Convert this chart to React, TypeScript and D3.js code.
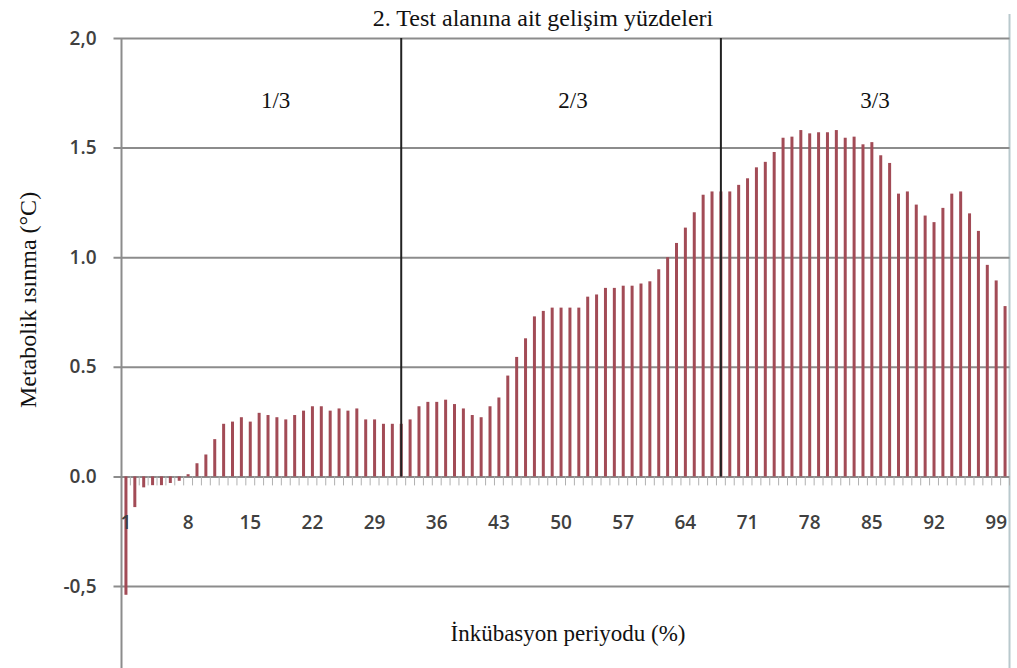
import * as React from "react";
import * as d3 from "d3";

// incubation period (%) categories 1..100
const periods: number[] = Array.from({ length: 100 }, (_, i) => i + 1);

// metabolic warming (°C)
const warming: number[] = [
  -0.54, -0.14, -0.05, -0.04, -0.04, -0.03, -0.02, 0.01, 0.06, 0.1,
  0.17, 0.24, 0.25, 0.27, 0.25, 0.29, 0.28, 0.27, 0.26, 0.28,
  0.3, 0.32, 0.32, 0.3, 0.31, 0.3, 0.31, 0.26, 0.26, 0.24,
  0.24, 0.24, 0.26, 0.32, 0.34, 0.34, 0.35, 0.33, 0.31, 0.28,
  0.27, 0.32, 0.36, 0.46, 0.545, 0.63, 0.73, 0.755, 0.77, 0.77,
  0.77, 0.77, 0.82, 0.83, 0.86, 0.86, 0.87, 0.87, 0.88, 0.89,
  0.945, 1.0, 1.065, 1.135, 1.205, 1.285, 1.3, 1.3, 1.3, 1.33,
  1.36, 1.41, 1.435, 1.48, 1.545, 1.55, 1.58, 1.565, 1.57, 1.57,
  1.58, 1.545, 1.55, 1.515, 1.525, 1.465, 1.43, 1.29, 1.3, 1.24,
  1.19, 1.16, 1.225, 1.29, 1.3, 1.2, 1.12, 0.965, 0.894, 0.777,
];

const xTickValues: number[] = [1, 8, 15, 22, 29, 36, 43, 50, 57, 64, 71, 78, 85, 92, 99];
const yTickValues: number[] = [-0.5, 0, 0.5, 1, 1.5, 2];
const yTickLabels: string[] = ["-0,5", "0.0", "0.5", "1.0", "1.5", "2,0"];

// section dividers and their labels
const dividers: number[] = [32, 68];
const sections: { label: string; from: number; to: number }[] = [
  { label: "1/3", from: 1, to: 32 },
  { label: "2/3", from: 32, to: 68 },
  { label: "3/3", from: 68, to: 100 },
];

const title = "2. Test alanına ait gelişim yüzdeleri";
const xTitle = "İnkübasyon periyodu (%)";
const yTitle = "Metabolik ısınma (°C)";

function drawChart(svgEl: SVGSVGElement) {
  const width = 1017;
  const height = 668;
  const left = 121.5;
  const right = 1009.5;
  const top = 38;

  const svg = d3.select(svgEl);
  svg.selectAll("*").remove();
  svg.attr("width", width).attr("height", height);

  const x = d3
    .scaleBand<number>()
    .domain(periods)
    .range([left, right])
    .padding(0);
  const y = d3.scaleLinear().domain([-0.5, 2]).range([586, top]);
  const cx = (d: number) => (x(d) as number) + x.bandwidth() / 2;

  svg.append("rect").attr("width", width).attr("height", height).attr("fill", "#fff");

  // right border
  svg
    .append("line")
    .attr("x1", right)
    .attr("x2", right)
    .attr("y1", 14)
    .attr("y2", height)
    .attr("stroke", "#b9c9cd")
    .attr("stroke-width", 2);

  // gridlines + y ticks
  const yAxis = d3
    .axisLeft(y)
    .tickValues(yTickValues)
    .tickSize(-(right - left))
    .tickSizeOuter(0)
    .tickPadding(25)
    .tickFormat((_d, i) => yTickLabels[i]);

  const gy = svg.append("g").attr("transform", `translate(${left},0)`).call(yAxis);
  gy.select(".domain").remove();
  gy.selectAll(".tick line")
    .attr("x1", -8)
    .attr("stroke", "#8c8c8c")
    .attr("stroke-width", 2);
  gy.selectAll(".tick text")
    .attr("font-family", "'Open Sans', sans-serif")
    .attr("font-size", 19)
    .attr("font-weight", 600)
    .attr("fill", "#404040");

  // y axis line
  svg
    .append("line")
    .attr("x1", left)
    .attr("x2", left)
    .attr("y1", top)
    .attr("y2", height)
    .attr("stroke", "#8c8c8c")
    .attr("stroke-width", 2);

  // minor category ticks under zero line
  svg
    .append("g")
    .selectAll("line")
    .data(periods)
    .enter()
    .append("line")
    .attr("x1", (d) => (x(d) as number) + x.bandwidth())
    .attr("x2", (d) => (x(d) as number) + x.bandwidth())
    .attr("y1", y(0))
    .attr("y2", y(0) + 9)
    .attr("stroke", "#b0b0b0")
    .attr("stroke-width", 1);

  // bars
  const barW = 3;
  svg
    .append("g")
    .selectAll("rect")
    .data(periods)
    .enter()
    .append("rect")
    .attr("x", (d) => cx(d) - barW / 2)
    .attr("y", (d, i) => Math.min(y(warming[i]), y(0)))
    .attr("width", barW)
    .attr("height", (d, i) => Math.abs(y(warming[i]) - y(0)))
    .attr("fill", "#a24b56");

  // x labels
  svg
    .append("g")
    .selectAll("text")
    .data(xTickValues)
    .enter()
    .append("text")
    .attr("x", (d) => cx(d))
    .attr("y", 529)
    .attr("text-anchor", "middle")
    .attr("font-family", "'Open Sans', sans-serif")
    .attr("font-size", 19)
    .attr("font-weight", 600)
    .attr("fill", "#404040")
    .text((d) => d);

  // section dividers
  svg
    .append("g")
    .selectAll("line")
    .data(dividers)
    .enter()
    .append("line")
    .attr("x1", (d) => cx(d))
    .attr("x2", (d) => cx(d))
    .attr("y1", top)
    .attr("y2", y(0))
    .attr("stroke", "#222")
    .attr("stroke-width", 2);

  svg
    .append("g")
    .selectAll("text")
    .data(sections)
    .enter()
    .append("text")
    .attr("x", (d) => (cx(d.from) + cx(d.to)) / 2 + 12)
    .attr("y", 108)
    .attr("text-anchor", "middle")
    .attr("font-family", "'Liberation Serif', serif")
    .attr("font-size", 23)
    .attr("fill", "#111")
    .text((d) => d.label);

  // titles
  svg
    .append("text")
    .attr("x", 543)
    .attr("y", 26)
    .attr("text-anchor", "middle")
    .attr("font-family", "'Liberation Serif', serif")
    .attr("font-size", 24)
    .attr("fill", "#111")
    .text(title);

  svg
    .append("text")
    .attr("x", 568)
    .attr("y", 641)
    .attr("text-anchor", "middle")
    .attr("font-family", "'Liberation Serif', serif")
    .attr("font-size", 23)
    .attr("fill", "#111")
    .text(xTitle);

  svg
    .append("text")
    .attr("transform", "translate(36,300) rotate(-90)")
    .attr("text-anchor", "middle")
    .attr("font-family", "'Liberation Serif', serif")
    .attr("font-size", 24)
    .attr("fill", "#111")
    .text(yTitle);
}

export default function App() {
  const ref = React.useRef<SVGSVGElement>(null);
  React.useEffect(() => {
    if (ref.current) drawChart(ref.current);
  }, []);
  return <svg ref={ref} style={{ position: "absolute", left: 0, top: 0 }} />;
}
